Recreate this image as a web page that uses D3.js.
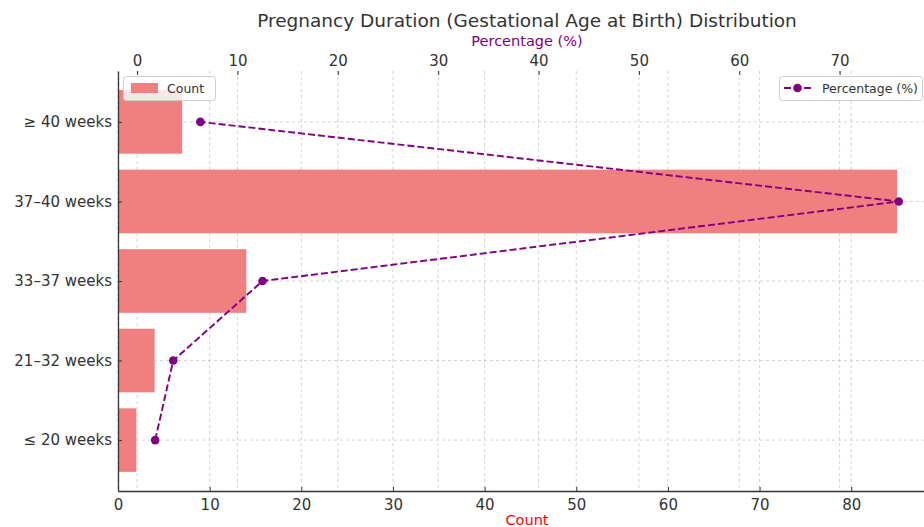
<!DOCTYPE html>
<html><head><meta charset="utf-8">
<script src="https://cdn.jsdelivr.net/npm/d3@7"></script>
<style>body{margin:0;background:#fff;} text{font-family:"DejaVu Sans",sans-serif;}</style>
</head><body>
<svg id="c" width="924" height="527"></svg>
<script>
const categories = ["≤ 20 weeks", "21–32 weeks", "33–37 weeks", "37–40 weeks", "≥ 40 weeks"];
const counts = [2, 4, 14, 85, 7];
const percentages = [1.8, 3.6, 12.5, 75.9, 6.3];
const countTicks = [0, 10, 20, 30, 40, 50, 60, 70, 80];
const pctTicks = [0, 10, 20, 30, 40, 50, 60, 70];

(function () {
const svg = d3.select("#c");
const L = 118, R = 936, T = 71, B = 491;
const textCol = "#333";

const cMax = d3.max(counts) * 1.05;
const x = d3.scaleLinear().domain([0, cMax]).range([L, R]);
const pMin = d3.min(percentages), pMaxV = d3.max(percentages), pr = pMaxV - pMin;
const xp = d3.scaleLinear().domain([pMin - 0.05 * pr, pMaxV + 0.05 * pr]).range([L, R]);
const y = d3.scaleLinear().domain([-0.64, categories.length - 1 + 0.64]).range([B, T]);
const bh = Math.abs(y(0.4) - y(-0.4));

// grids
const grid = svg.append("g").attr("stroke", "#c8c8c8").attr("stroke-width", 0.8).attr("stroke-dasharray", "3,3");
countTicks.forEach(t => grid.append("line").attr("x1", x(t)).attr("x2", x(t)).attr("y1", T).attr("y2", B));
pctTicks.forEach(t => grid.append("line").attr("x1", xp(t)).attr("x2", xp(t)).attr("y1", T).attr("y2", B));
categories.forEach((c, i) => grid.append("line").attr("x1", L).attr("x2", R).attr("y1", y(i)).attr("y2", y(i)));

// bars
svg.append("g").selectAll("rect").data(counts).join("rect")
  .attr("x", x(0)).attr("y", (d, i) => y(i) - bh / 2)
  .attr("width", d => x(d) - x(0)).attr("height", bh)
  .attr("fill", "#F08080");

// line
const line = d3.line().x(d => xp(d)).y((d, i) => y(i));
svg.append("path").datum(percentages).attr("d", line)
  .attr("fill", "none").attr("stroke", "#800080").attr("stroke-width", 1.9).attr("stroke-dasharray", "7,3");
svg.append("g").selectAll("circle").data(percentages).join("circle")
  .attr("cx", d => xp(d)).attr("cy", (d, i) => y(i)).attr("r", 4.3).attr("fill", "#800080");

// axes
const gBottom = svg.append("g").attr("transform", `translate(0,${B})`)
  .call(d3.axisBottom(x).tickValues(countTicks).tickSizeInner(-4).tickSizeOuter(0).tickPadding(8));
const gTop = svg.append("g").attr("transform", `translate(0,${T})`)
  .call(d3.axisTop(xp).tickValues(pctTicks).tickSizeInner(-4).tickSizeOuter(0).tickPadding(5.5));
gTop.select(".domain").remove();
const gLeft = svg.append("g").attr("transform", `translate(${L},0)`)
  .call(d3.axisLeft(y).tickValues(d3.range(categories.length)).tickFormat(i => categories[i]).tickSizeInner(-4).tickSizeOuter(0).tickPadding(6));
[gBottom, gTop, gLeft].forEach(g => {
  g.selectAll("text").attr("font-size", 15).attr("fill", textCol).style("font-family", "DejaVu Sans");
  g.selectAll("line").attr("stroke", textCol);
  g.select(".domain").attr("stroke", textCol).attr("stroke-width", 1.3);
});

// titles
svg.append("text").attr("x", 527).attr("y", 27).attr("text-anchor", "middle").attr("font-size", 18.5).attr("fill", textCol)
  .text("Pregnancy Duration (Gestational Age at Birth) Distribution");
svg.append("text").attr("x", 527).attr("y", 46).attr("text-anchor", "middle").attr("font-size", 14.5).attr("fill", "#800080")
  .text("Percentage (%)");
svg.append("text").attr("x", 527).attr("y", 525).attr("text-anchor", "middle").attr("font-size", 14.5).attr("fill", "red")
  .text("Count");

// legends
const lg1 = svg.append("g");
lg1.append("rect").attr("x", 123.5).attr("y", 76.5).attr("width", 92).attr("height", 24).attr("rx", 3)
  .attr("fill", "white").attr("fill-opacity", 0.8).attr("stroke", "#ccc");
lg1.append("rect").attr("x", 131).attr("y", 83).attr("width", 27).attr("height", 10).attr("fill", "#F08080");
lg1.append("text").attr("x", 167).attr("y", 92.5).attr("font-size", 12.5).attr("fill", textCol).text("Count");

const lg2 = svg.append("g");
lg2.append("rect").attr("x", 779.5).attr("y", 76.5).attr("width", 143).attr("height", 24).attr("rx", 3)
  .attr("fill", "white").attr("fill-opacity", 0.8).attr("stroke", "#ccc");
lg2.append("line").attr("x1", 784).attr("x2", 811).attr("y1", 88).attr("y2", 88)
  .attr("stroke", "#800080").attr("stroke-width", 1.9).attr("stroke-dasharray", "7,3");
lg2.append("circle").attr("cx", 797.5).attr("cy", 88).attr("r", 4.3).attr("fill", "#800080");
lg2.append("text").attr("x", 822).attr("y", 92.5).attr("font-size", 12.5).attr("fill", textCol).text("Percentage (%)");
})();
</script>
</body></html>
